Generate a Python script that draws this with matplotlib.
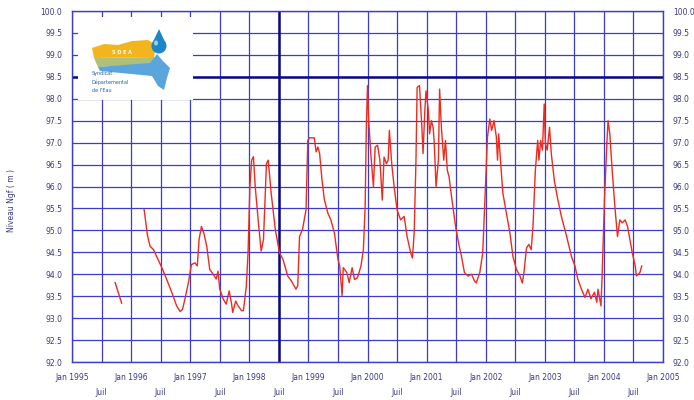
import matplotlib
matplotlib.use('Agg')

import matplotlib.pyplot as plt
import numpy as np
from matplotlib.patches import Rectangle, Polygon, Ellipse

# decimal years, nan = gap in the record
years = [1995.73, 1995.78, 1995.84, 1996.0,
         1996.22, 1996.275, 1996.32, 1996.38, 1996.43, 1996.52, 1996.60, 1996.69, 1996.77, 1996.83,
         1996.87, 1996.91, 1996.97, 1997.02, 1997.08, 1997.12, 1997.15, 1997.19, 1997.23, 1997.28,
         1997.33, 1997.39, 1997.44, 1997.47, 1997.50, 1997.56, 1997.61, 1997.66, 1997.70, 1997.72,
         1997.77, 1997.81, 1997.87, 1997.90, 1997.95, 1997.98, 1998.01, 1998.04, 1998.07, 1998.10,
         1998.15, 1998.20, 1998.24, 1998.29, 1998.32, 1998.37, 1998.44, 1998.51, 1998.57, 1998.65,
         1998.71, 1998.79, 1998.82, 1998.85, 1998.90, 1998.96, 1998.99, 1999.02, 1999.10, 1999.13,
         1999.16, 1999.19, 1999.23, 1999.27, 1999.33, 1999.38, 1999.44, 1999.50, 1999.53, 1999.57,
         1999.59, 1999.65, 1999.69, 1999.74, 1999.78, 1999.83, 1999.89, 1999.93, 1999.96, 1999.98,
         2000.00, 2000.02, 2000.06, 2000.10, 2000.13, 2000.17, 2000.21, 2000.25, 2000.28, 2000.32,
         2000.35, 2000.37, 2000.41, 2000.45, 2000.50, 2000.56, 2000.62, 2000.67, 2000.73, 2000.76,
         2000.79, 2000.82, 2000.84, 2000.88, 2000.92, 2000.94, 2000.97, 2000.99, 2001.03, 2001.05,
         2001.08, 2001.11, 2001.13, 2001.16, 2001.20, 2001.22, 2001.25, 2001.29, 2001.32, 2001.35,
         2001.38, 2001.43, 2001.49, 2001.55, 2001.59, 2001.64, 2001.70, 2001.76, 2001.81, 2001.84,
         2001.90, 2001.95, 2001.98, 2002.03, 2002.07, 2002.10, 2002.14, 2002.18, 2002.20, 2002.22,
         2002.25, 2002.29, 2002.35, 2002.41, 2002.46, 2002.52, 2002.58, 2002.62, 2002.65, 2002.69,
         2002.73, 2002.77, 2002.80, 2002.84, 2002.88, 2002.90, 2002.93, 2002.96, 2002.99, 2003.01,
         2003.04, 2003.08, 2003.11, 2003.16, 2003.21, 2003.28, 2003.37, 2003.45, 2003.51, 2003.56,
         2003.62, 2003.68, 2003.73, 2003.78, 2003.84, 2003.88, 2003.90, 2003.95, 2003.97, 2004.01,
         2004.05, 2004.07, 2004.10, 2004.14, 2004.19, 2004.23, 2004.27, 2004.31, 2004.36, 2004.40,
         2004.44, 2004.48, 2004.53, 2004.55, 2004.61, 2004.64]
level = [93.81, 93.60, 93.34, np.nan,
         95.48, 94.90, 94.64, 94.56, 94.41, 94.15, 93.89, 93.58, 93.28, 93.15,
         93.20, 93.43, 93.81, 94.22, 94.26, 94.19, 94.79, 95.09, 94.94, 94.64,
         94.11, 94.00, 93.89, 94.07, 93.66, 93.43, 93.32, 93.62, 93.32, 93.13,
         93.39, 93.28, 93.17, 93.17, 93.73, 94.53, 96.00, 96.60, 96.68, 96.00,
         95.24, 94.53, 94.79, 96.52, 96.60, 95.85, 95.02, 94.49, 94.34, 93.96,
         93.85, 93.66, 93.74, 94.86, 95.02, 95.47, 97.05, 97.11, 97.11, 96.79,
         96.90, 96.75, 96.15, 95.70, 95.39, 95.24, 94.94, 94.34, 94.19, 93.51,
         94.15, 94.04, 93.81, 94.15, 93.88, 93.92, 94.19, 94.56, 95.54, 97.35,
         98.30, 97.50, 96.67, 96.00, 96.90, 96.94, 96.60, 95.69, 96.67, 96.52,
         96.60, 97.28, 96.52, 96.00, 95.47, 95.24, 95.32, 94.86, 94.49, 94.37,
         94.94, 96.60, 98.26, 98.30, 97.35, 96.75, 97.73, 98.18, 97.73, 97.20,
         97.50, 97.35, 96.98, 96.00, 96.60, 98.22, 97.35, 96.60, 97.05, 96.37,
         96.22, 95.69, 95.09, 94.65, 94.41, 94.04, 93.96, 94.00, 93.85, 93.80,
         94.04, 94.49, 95.47, 97.13, 97.54, 97.28, 97.50, 97.13, 96.60, 97.20,
         96.60, 95.85, 95.39, 94.94, 94.41, 94.11, 93.96, 93.80, 94.07, 94.60,
         94.68, 94.56, 95.09, 96.37, 97.05, 96.60, 97.05, 96.83, 97.88, 96.98,
         96.83, 97.35, 96.75, 96.15, 95.77, 95.32, 94.86, 94.41, 94.19, 93.88,
         93.66, 93.47, 93.66, 93.44, 93.59, 93.36, 93.66, 93.28, 93.96, 95.70,
         96.98, 97.50, 97.20, 96.37, 95.47, 94.86, 95.24, 95.17, 95.24, 95.09,
         94.79, 94.49, 94.19, 93.96, 94.04, 94.19]

jan_years = list(range(1995, 2006))
jan_labels = ['Jan %d' % y for y in jan_years]
jul_pos = [y + 0.5 for y in range(1995, 2005)]
y_ticks = np.arange(92.0, 100.01, 0.5)

W, H = 694, 400
fig = plt.figure(figsize=(6.94, 4.0), dpi=100)
ax = fig.add_axes([72 / W, 1 - 362 / H, (663 - 72) / W, (362 - 11) / H])

grid_c = '#3b3bd0'
txt_c = '#3a3a80'

ax.set_xlim(1995, 2005)
ax.set_ylim(92, 100)
ax.set_xticks(jan_years)
ax.set_xticklabels(jan_labels)
ax.set_xticks(jul_pos, minor=True)
ax.set_xticklabels(['Juil'] * len(jul_pos), minor=True)
ax.set_yticks(y_ticks)
ax.set_yticklabels(['%.1f' % v for v in y_ticks])
ax.tick_params(axis='x', which='major', length=0, pad=8, labelsize=5.5, labelcolor=txt_c)
ax.tick_params(axis='x', which='minor', length=0, pad=19, labelsize=5.5, labelcolor=txt_c)
ax.tick_params(axis='y', length=0, pad=7, labelsize=5.5, labelcolor=txt_c,
               labelright=True, right=True)

for v in y_ticks:
    ax.axhline(v, color=grid_c, lw=0.9, zorder=1)
for x in np.arange(1995, 2005.01, 0.5):
    ax.axvline(x, color=grid_c, lw=0.9, zorder=1)
ax.axhline(98.5, color='#0a0a80', lw=1.8, zorder=1)
ax.axvline(1998.5, color='#0a0a80', lw=1.8, zorder=1)
for s in ax.spines.values():
    s.set_color(grid_c)
    s.set_linewidth(1.0)

ax.plot(years, level, color='#f02a1e', lw=1.0, zorder=3)

fig.text(12 / W, 0.5, 'Niveau Ngf ( m )', rotation=90, ha='center', va='center',
         fontsize=5.5, color=txt_c)


# logo, placed in pixel coords of the figure
def px(x, y):
    return (x / W, 1 - y / H)


tf = fig.transFigure
x0, y0 = px(78, 100)
x1, y1 = px(193, 17)
ax.add_patch(Rectangle((x0, y0), x1 - x0, y1 - y0, transform=tf, facecolor='white',
                       edgecolor='none', zorder=5, clip_on=False))
yellow = [(92, 48), (104, 44), (118, 45), (132, 41), (148, 40), (156, 45), (154, 57), (94, 58)]
ax.add_patch(Polygon([px(*p) for p in yellow], closed=True, transform=tf, facecolor='#f2b51e',
                     edgecolor='none', zorder=6, clip_on=False))
mid = [(94, 58), (154, 57), (155, 64), (98, 67)]
ax.add_patch(Polygon([px(*p) for p in mid], closed=True, transform=tf, facecolor='#b0c078',
                     edgecolor='none', zorder=6, clip_on=False))
blue = [(98, 67), (150, 63), (157, 54), (162, 60), (170, 68), (167, 78), (164, 90),
        (158, 86), (152, 76), (100, 71)]
ax.add_patch(Polygon([px(*p) for p in blue], closed=True, transform=tf, facecolor='#5aa6dc',
                     edgecolor='none', zorder=6, clip_on=False))
ax.add_patch(Ellipse(px(159, 46), 15 / W, 15 / H, transform=tf, facecolor='#1e86c8',
                     edgecolor='none', zorder=7, clip_on=False))
drop = [(152, 44), (159, 29), (166, 44)]
ax.add_patch(Polygon([px(*p) for p in drop], closed=True, transform=tf, facecolor='#1e86c8',
                     edgecolor='none', zorder=7, clip_on=False))
ax.add_patch(Ellipse(px(156, 43), 4 / W, 5 / H, transform=tf, facecolor='#9fd0f0',
                     edgecolor='none', zorder=8, clip_on=False))
fig.text(*px(122, 52), 'S D E A', fontsize=3.5, color='white', ha='center', va='center',
         fontweight='bold', zorder=8)
for i, t in enumerate(['Syndicat', 'Départemental', "de l'Eau"]):
    fig.text(*px(92, 74 + 8 * i), t, fontsize=3.5, color='#2a5ea8', ha='left', va='center',
             zorder=8)

plt.savefig('out.png', dpi=100)
